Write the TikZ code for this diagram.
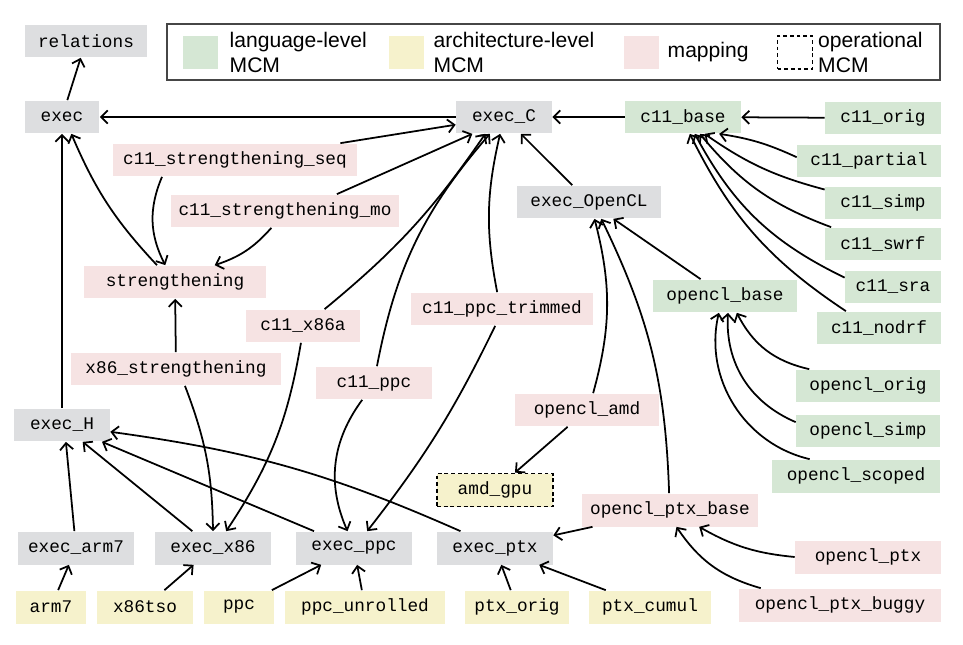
\documentclass[tikz,border=0pt]{standalone}
\usepackage{fontspec}
\setmainfont{Liberation Sans}
\setmonofont{Liberation Mono}
\usepackage{tikz}
\usetikzlibrary{positioning, arrows.meta}

\definecolor{execgray}{RGB}{221,222,224}
\definecolor{langgreen}{RGB}{213,231,212}
\definecolor{archyellow}{RGB}{246,242,204}
\definecolor{mappink}{RGB}{246,227,227}
\definecolor{legendgray}{RGB}{70,70,70}

\begin{document}
\begin{tikzpicture}[
    x=0.02cm, y=-0.02cm,
    box/.style={rectangle, minimum height=0.66cm, inner sep=0pt, font=\fontsize{10.1}{12}\selectfont\ttfamily},
    exe/.style={box, fill=execgray},
    lang/.style={box, fill=langgreen},
    arch/.style={box, fill=archyellow},
    mapp/.style={box, fill=mappink},
    oper/.style={arch, draw, line width=1pt, dash pattern=on 2.2pt off 1.6pt},
    legtext/.style={align=left, inner sep=0pt, font=\fontsize{12}{14}\selectfont},
    arrow/.style={-{Straight Barb[length=3.8pt, width=7.5pt]}, line width=1pt}
]
    \useasboundingbox (0,0) rectangle (963,645);

    % legend
    \node[draw=legendgray, line width=0.8pt, minimum width=15.46cm, minimum height=1.12cm] (legend) at (553.5,52) {};
    \node[lang, minimum width=0.7cm] (klang) at (200.5,52.5) {};
    \node[legtext, right=0.22cm of klang] (tlang) {language-level\\MCM};
    \node[arch, minimum width=0.7cm] (karch) at (406.5,52.5) {};
    \node[legtext, right=0.18cm of karch] (tarch) {architecture-level\\MCM};
    \node[mapp, minimum width=0.7cm] (kmapp) at (641.5,52.5) {};
    \node[legtext, right=0.16cm of kmapp] (tmapp) {mapping};
    \node[box, draw, line width=1pt, dash pattern=on 2.2pt off 1.6pt, minimum width=0.7cm] (koper) at (795,52.5) {};
    \node[legtext, right=0.09cm of koper] (toper) {operational\\MCM};

    % executions
    \node[exe, minimum width=2.44cm] (rel) at (86,41) {relations};
    \node[exe, minimum width=1.5cm] (exec) at (62,117) {exec};
    \node[exe, minimum width=1.92cm] (execc) at (504,117) {exec\_C};
    \node[exe, minimum width=2.88cm] (execcl) at (589,202) {exec\_OpenCL};
    \node[exe, minimum width=1.92cm] (exech) at (62,425) {exec\_H};
    \node[exe, minimum width=2.32cm] (execarm) at (76,548) {exec\_arm7};
    \node[exe, minimum width=2.34cm] (execx) at (213,548) {exec\_x86};
    \node[exe, minimum width=2.32cm] (execppc) at (354,548) {exec\_ppc};
    \node[exe, minimum width=2.32cm] (execptx) at (495,548) {exec\_ptx};

    % language-level models
    \node[lang, minimum width=2.32cm] (cbase) at (683,117) {c11\_base};
    \node[lang, minimum width=2.32cm] (corig) at (883,118) {c11\_orig};
    \node[lang, minimum width=2.88cm] (cpart) at (869,161) {c11\_partial};
    \node[lang, minimum width=2.32cm] (csimp) at (883,203) {c11\_simp};
    \node[lang, minimum width=2.32cm] (cswrf) at (883,244) {c11\_swrf};
    \node[lang, minimum width=1.92cm] (csra) at (893,287) {c11\_sra};
    \node[lang, minimum width=2.48cm] (cnodrf) at (879,328) {c11\_nodrf};
    \node[lang, minimum width=2.88cm] (clbase) at (725,296) {opencl\_base};
    \node[lang, minimum width=2.88cm] (clorig) at (868,386) {opencl\_orig};
    \node[lang, minimum width=2.88cm] (clsimp) at (868,431) {opencl\_simp};
    \node[lang, minimum width=3.36cm] (clscoped) at (856,476) {opencl\_scoped};

    % mappings
    \node[mapp, minimum width=4.88cm] (sseq) at (235,160) {c11\_strengthening\_seq};
    \node[mapp, minimum width=4.58cm] (smo) at (285,211) {c11\_strengthening\_mo};
    \node[mapp, minimum width=3.66cm] (strength) at (175,282) {strengthening};
    \node[mapp, minimum width=2.3cm] (cx86a) at (303,326) {c11\_x86a};
    \node[mapp, minimum width=3.64cm] (cppctr) at (502,309) {c11\_ppc\_trimmed};
    \node[mapp, minimum width=4.22cm] (x86str) at (176,369) {x86\_strengthening};
    \node[mapp, minimum width=2.32cm] (cppc) at (374,383) {c11\_ppc};
    \node[mapp, minimum width=2.88cm] (clamd) at (587,410) {opencl\_amd};
    \node[mapp, minimum width=3.52cm] (clptxb) at (670,510) {opencl\_ptx\_base};
    \node[mapp, minimum width=2.92cm] (clptx) at (868,557) {opencl\_ptx};
    \node[mapp, minimum width=4.04cm] (clptxbug) at (840,605) {opencl\_ptx\_buggy};

    % architecture-level models
    \node[oper, minimum width=2.32cm] (amdgpu) at (495,490) {amd\_gpu};
    \node[arch, minimum width=1.4cm] (arm) at (51,607) {arm7};
    \node[arch, minimum width=1.92cm] (x86tso) at (145,607) {x86tso};
    \node[arch, minimum width=1.4cm] (ppc) at (239,607) {ppc};
    \node[arch, minimum width=3.2cm] (ppcunr) at (365,607) {ppc\_unrolled};
    \node[arch, minimum width=2.08cm] (ptxorig) at (517,607) {ptx\_orig};
    \node[arch, minimum width=2.46cm] (ptxcumul) at (650,607) {ptx\_cumul};

    % top row
    \draw[arrow] (exec) -- (rel);
    \draw[arrow] (execc) -- (exec);
    \draw[arrow] (cbase) -- (execc);
    \draw[arrow] (corig) -- (cbase);
    \draw[arrow] (cpart.177) to[bend right=8] (cbase.335);
    \draw[arrow] (csimp.167) to[bend left=10] (cbase.322);
    \draw[arrow] (cswrf.162) to[bend left=15] (cbase.315);
    \draw[arrow] (csra.169) to[bend left=18] (cbase.305);
    \draw[arrow] (cnodrf.153) to[bend left=15] (cbase.292);
    \draw[arrow] (execcl) -- (execc);
    \draw[arrow] (clbase) -- (execcl);
    \draw[arrow] (clorig.164) to[bend left=25] (clbase.305);
    \draw[arrow] (clsimp.173) to[bend left=35] (clbase.280);
    \draw[arrow] (clscoped.160) to[bend left=45] (clbase.250);

    % mappings into exec_C
    \draw[arrow] (sseq) -- (execc);
    \draw[arrow] (smo.18) -- (execc.208);
    \draw[arrow] (cx86a.38) to[bend right=8] (execc.222);
    \draw[arrow] (cppc.80) to[bend left=15] (execc.230);
    \draw[arrow] (cppctr.106) to[bend left=12] (execc.257);

    % strengthening
    \draw[arrow] (sseq.193) to[bend right=25] (strength.120);
    \draw[arrow] (smo.231) to[bend left=15] (strength.23);
    \draw[arrow] (strength.137) to[bend left=10] (exec.299);
    \draw[arrow] (x86str) -- (strength);

    % mappings into architectures
    \draw[arrow] (x86str.298) to[bend left=10] (execx.north);
    \draw[arrow] (cx86a.263) to[bend left=12] (execx.52);
    \draw[arrow] (cppc.235) to[bend right=30] (execppc.111);
    \draw[arrow] (cppctr.248) to[bend left=6] (execppc.52);
    \draw[arrow] (clamd.70) to[bend right=15] (execcl.288);
    \draw[arrow] (clamd) -- (amdgpu);
    \draw[arrow] (clptxb.93) to[bend right=12] (execcl.306);
    \draw[arrow] (clptxb) -- (execptx);
    \draw[arrow] (clptx.180) to[bend left=12] (clptxb.330);
    \draw[arrow] (clptxbug.168) to[bend left=20] (clptxb.291);

    % hardware
    \draw[arrow] (exech) -- (exec);
    \draw[arrow] (execarm) -- (exech.283);
    \draw[arrow] (execx) -- (exech);
    \draw[arrow] (execppc) -- (exech);
    \draw[arrow] (execptx.154) to[bend right=8] (exech.352);
    \draw[arrow] (arm) -- (execarm);
    \draw[arrow] (x86tso) -- (execx);
    \draw[arrow] (ppc) -- (execppc);
    \draw[arrow] (ppcunr) -- (execppc);
    \draw[arrow] (ptxorig) -- (execptx);
    \draw[arrow] (ptxcumul) -- (execptx);
\end{tikzpicture}
\end{document}
